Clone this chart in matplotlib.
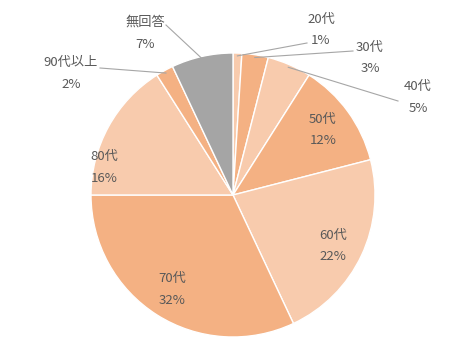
import matplotlib.pyplot as plt
import numpy as np

plt.rcParams['font.family'] = ['Noto Sans CJK JP', 'DejaVu Sans']

labels = ['20代', '30代', '40代', '50代', '60代', '70代', '80代', '90代以上', '無回答']
values = [1, 3, 5, 12, 22, 32, 16, 2, 7]
colors = ['#F8CBAD', '#F4B183', '#F8CBAD', '#F4B183', '#F8CBAD',
          '#F4B183', '#F8CBAD', '#F4B183', '#A5A5A5']

# label centres in pixel coords (x, y from top) and leader line start points
label_pos = [(321, 30), (370, 58), (418, 97), (323, 130), (333, 246),
             (172, 289), (104, 167), (71, 73), (145, 33)]
leader_start = {0: (307, 43), 1: (353, 51), 2: (398, 101), 7: (100, 68), 8: (166, 25)}

W, H = 466, 359
cx, cy, r = 233, 195, 142

fig = plt.figure(figsize=(W / 100, H / 100), dpi=100)
ax = fig.add_axes([0, 0, 1, 1])

wedges, _ = ax.pie(values, colors=colors, startangle=90, counterclock=False,
                   center=(cx, H - cy), radius=r, frame=False,
                   wedgeprops=dict(edgecolor='white', linewidth=1))
ax.set_xlim(0, W)
ax.set_ylim(0, H)
ax.set_aspect('equal')
ax.axis('off')

total = sum(values)
cum = np.cumsum([0] + values)
text_color = '#595959'
for i, (lab, v) in enumerate(zip(labels, values)):
    mid = (cum[i] + v / 2) / total * 2 * np.pi
    x, y = label_pos[i]
    ax.text(x, H - y + 11, lab, ha='center', va='center', fontsize=9.5, color=text_color)
    ax.text(x, H - y - 11, f'{v}%', ha='center', va='center', fontsize=9.5, color=text_color)
    if i in leader_start:
        sx, sy = leader_start[i]
        ex = cx + r * 0.98 * np.sin(mid)
        ey = cy - r * 0.98 * np.cos(mid)
        ax.plot([sx, ex], [H - sy, H - ey], color='#A6A6A6', linewidth=0.8)

fig.savefig('out.png', dpi=100)
